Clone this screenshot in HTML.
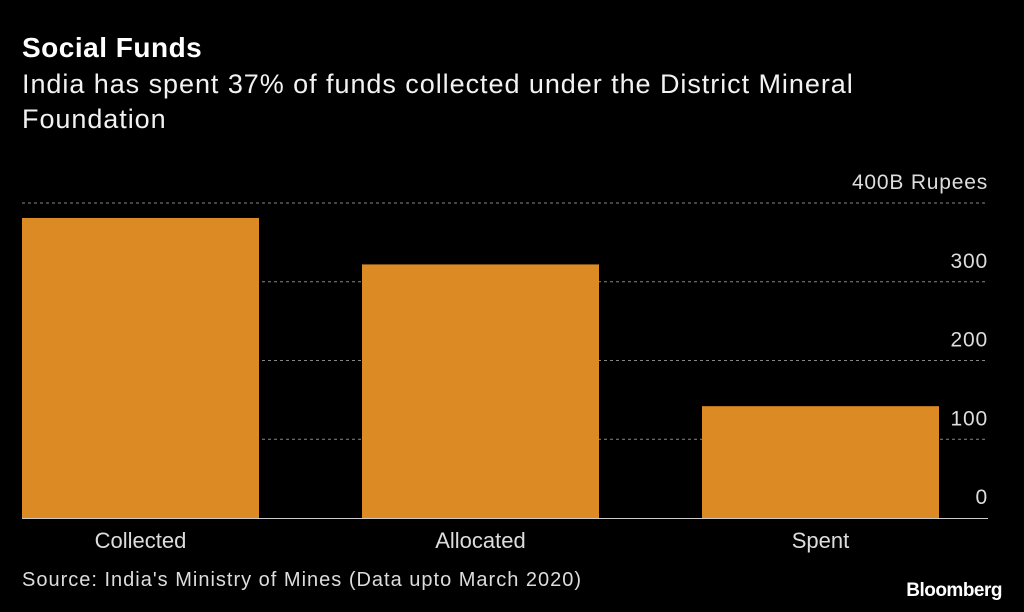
<!DOCTYPE html>
<html><head><meta charset="utf-8"><style>
body{margin:0;background:#000;width:1024px;height:612px;overflow:hidden;font-family:"Liberation Sans",sans-serif;color:#fff}
.t{position:absolute;left:22px}
</style></head><body>
<div class="t" style="top:32px;font-size:28px;font-weight:bold;letter-spacing:0.5px">Social Funds</div>
<div class="t" style="top:67px;font-size:27px;line-height:35px;width:880px;color:#f2f2f2;letter-spacing:0.95px">India has spent 37% of funds collected under the District Mineral Foundation</div>
<svg id="c" width="1024" height="612" style="position:absolute;left:0;top:0"></svg>
<div class="t" style="top:569px;font-size:20px;color:#ddd;letter-spacing:1px">Source: India's Ministry of Mines (Data upto March 2020)</div>
<div style="position:absolute;right:22px;top:580px;font-size:19px;font-weight:bold;letter-spacing:-0.5px">Bloomberg</div>
<script>
const categories=["Collected","Allocated","Spent"];
const values=[381,322,142];
const ticks=[0,100,200,300,400];
const tickLabels=["0","100","200","300","400B Rupees"];
const ns="http://www.w3.org/2000/svg",svg=document.getElementById('c');
const y=v=>518-v*0.7875;
const x0=22,step=340,bw=237;
function mk(t,a){const e=document.createElementNS(ns,t);for(const k in a)e.setAttribute(k,a[k]);svg.appendChild(e);return e;}
ticks.forEach((t,i)=>{
 if(t>0){const l=mk('line',{x1:22,x2:988,y1:y(t),y2:y(t),stroke:'#888','stroke-dasharray':'3,3','stroke-width':1});
 
 }
 const tx=mk('text',{x:988,y:y(t)-14,'text-anchor':'end',fill:'#ddd','font-size':21,'letter-spacing':0.8,'font-family':'Liberation Sans, sans-serif'});
 tx.textContent=tickLabels[i];
 
 
});
categories.forEach((c,i)=>{
 const bx=x0+i*step;
 const r=mk('rect',{x:bx,y:y(values[i]),width:bw,height:y(0)-y(values[i]),fill:'#dc8a24'});
 
 
 const t=mk('text',{x:bx+bw/2,y:548,'text-anchor':'middle',fill:'#ddd','font-size':22,'font-family':'Liberation Sans, sans-serif'});
 t.textContent=c;
 
 
});
const ax=mk('line',{x1:22,x2:988,y1:518.5,y2:518.5,stroke:'#ccc','stroke-width':1});


</script>
</body></html>
